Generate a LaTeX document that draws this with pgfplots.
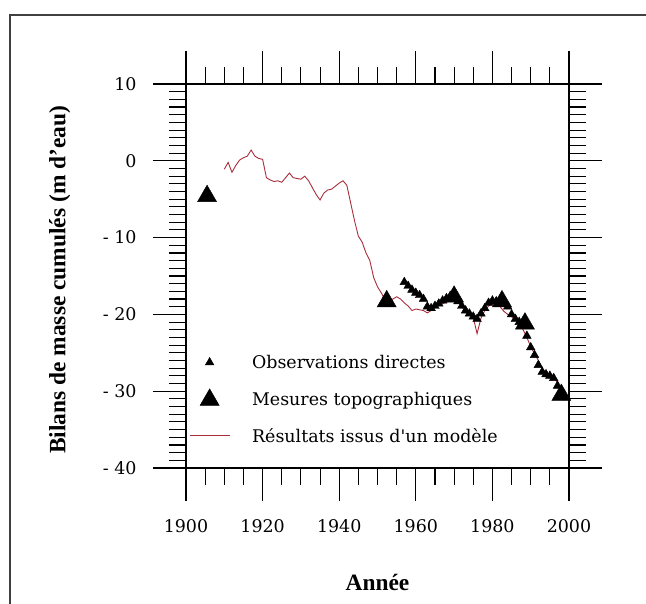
\documentclass[border=0pt]{standalone}
\usepackage{fontspec}
\setmainfont{Liberation Serif}
\newfontfamily\legfont{DejaVu Serif}
\usepackage{pgfplots}
\pgfplotsset{compat=1.18}

\definecolor{modelred}{RGB}{170,45,60}

\pgfplotstableread{
annee bilan
1957 -15.8
1958 -16.3
1959 -16.8
1960 -17.2
1961 -17.5
1962 -18.0
1963 -19.0
1964 -19.2
1965 -18.9
1966 -18.6
1967 -18.2
1968 -17.9
1969 -17.6
1970 -17.8
1971 -18.3
1972 -18.9
1973 -19.5
1974 -19.9
1975 -20.3
1976 -20.6
1977 -19.9
1978 -19.2
1979 -18.5
1980 -18.2
1981 -18.3
1982 -18.4
1983 -18.5
1984 -19.0
1985 -20.0
1986 -20.6
1987 -21.0
1988 -21.4
1989 -22.8
1990 -24.3
1991 -25.3
1992 -26.6
1993 -27.5
1994 -27.8
1995 -28.0
1996 -28.3
1997 -29.3
1998 -30.6
}\observations

\pgfplotstableread{
annee bilan
1905.5 -4.6
1952.4 -18.3
1970.0 -17.7
1982.5 -18.3
1988.5 -21.2
1998.0 -30.5
}\topo

\pgfplotstableread{
annee bilan
1910 -1.1
1911 -0.2
1912 -1.5
1913 -0.6
1914 0.1
1915 0.4
1916 0.6
1917 1.4
1918 0.6
1919 0.3
1920 0.2
1921 -2.2
1922 -2.5
1923 -2.7
1924 -2.6
1925 -2.8
1926 -2.2
1927 -1.6
1928 -2.2
1929 -2.3
1930 -2.4
1931 -2.0
1932 -2.6
1933 -3.5
1934 -4.4
1935 -5.1
1936 -4.2
1937 -3.8
1938 -3.7
1939 -3.3
1940 -2.9
1941 -2.6
1942 -3.2
1943 -5.5
1944 -7.8
1945 -9.8
1946 -10.6
1947 -12.0
1948 -13.0
1949 -15.2
1950 -16.4
1951 -17.2
1952 -18.2
1953 -18.3
1954 -18.0
1955 -17.7
1956 -18.0
1957 -18.5
1958 -18.9
1959 -19.5
1960 -19.3
1961 -19.4
1962 -19.5
1963 -19.8
1964 -19.5
1965 -19.1
1966 -18.8
1967 -18.6
1968 -18.4
1969 -18.2
1970 -18.2
1971 -18.3
1972 -19.0
1973 -19.7
1974 -20.0
1975 -20.4
1976 -22.5
1977 -20.5
1978 -19.5
1979 -18.9
1980 -18.6
1981 -18.8
1982 -19.0
1983 -19.6
1984 -20.0
1985 -20.3
1986 -20.6
1987 -21.0
1988 -22.0
1989 -23.0
1990 -24.2
1991 -25.1
1992 -26.0
1993 -27.0
1994 -27.6
1995 -27.9
1996 -28.2
1997 -28.9
1998 -30.0
1998.7 -31.2
}\modele

\begin{document}
\begin{tikzpicture}
\useasboundingbox (0bp,0bp) rectangle (646bp,-604bp);
% cadre (bords gauche et haut seulement)
\fill[black!75] (9bp,-604bp) rectangle (11bp,-14bp);
\fill[black!75] (9bp,-14bp) rectangle (646bp,-16bp);

\begin{axis}[
    at={(186bp,-468bp)}, anchor=south west,
    scale only axis, width=383bp, height=384bp,
    xmin=1900, xmax=2000, ymin=-40, ymax=10,
    xtick={1900,1920,...,2000},
    xticklabels={1900,1920,1940,1960,1980,2000},
    ytick={-40,-30,...,10},
    yticklabels={- 40,- 30,- 20,- 10,0,10},
    minor x tick num=3,
    minor y tick num=9,
    tick align=outside,
    major tick length=33bp,
    minor tick length=17bp,
    tick style={black, line width=1.1bp},
    axis line style={line width=1.1bp},
    ticklabel pos=left,
    ticklabel style={font=\legfont\fontsize{17.5}{21}\selectfont},
    xticklabel style={yshift=-15bp},
    yticklabel style={xshift=-13bp},
    xlabel={\textbf{Année}},
    ylabel={\textbf{Bilans de masse cumulés (m d'eau)}},
    label style={font=\fontsize{23.5}{27}\selectfont},
    xlabel style={at={(axis description cs:0.5,-0.297)}, anchor=center},
    ylabel style={at={(axis description cs:-0.33,0.49)}, anchor=center},
    legend cell align=left,
    legend style={draw=none, fill=none, at={(rel axis cs:0.0,0.305)}, anchor=north west,
        font=\legfont\fontsize{17.5}{21}\selectfont, row sep=17bp,
        /tikz/every odd column/.append style={column sep=20bp}},
    legend image code/.code={
        \draw[#1, mark repeat=2, mark phase=2] plot coordinates {(0bp,0bp) (20bp,0bp) (40bp,0bp)};
    },
]

\addplot[only marks, mark=triangle*, mark size=5bp, black] table[x=annee, y=bilan] {\observations};
\addlegendentry{Observations directes}

\addplot[only marks, mark=triangle*, mark size=11bp, black] table[x=annee, y=bilan] {\topo};
\addlegendentry{Mesures topographiques}

\addplot[modelred, line width=0.9bp] table[x=annee, y=bilan] {\modele};
\addlegendentry{Résultats issus d'un modèle}

\end{axis}
\end{tikzpicture}
\end{document}
